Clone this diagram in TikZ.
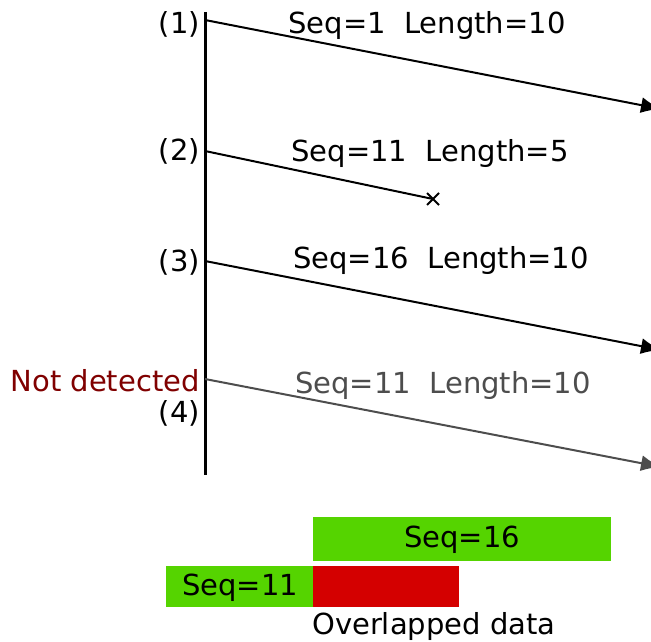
\documentclass[tikz,border=0pt]{standalone}
\usepackage{fontspec}
\setmainfont{DejaVu Sans}
\usetikzlibrary{arrows.meta,calc}
\definecolor{dred}{HTML}{800000}
\definecolor{dgray}{HTML}{4D4D4D}
\definecolor{bgreen}{HTML}{55D400}
\definecolor{bred}{HTML}{D40000}
\begin{document}
\begin{tikzpicture}[x=1pt,y=-1pt,
  lbl/.style={font=\fontsize{29}{34}\selectfont, inner sep=0pt},
  msg/.style={line width=2pt, -{Latex[length=20pt,width=16pt]}}]
\useasboundingbox (0,0) rectangle (651,642);
% timeline
\coordinate (top) at (205,12);
\coordinate (bot) at (205,475);
\draw[line width=3pt] (top) -- (bot);
% start and end points
\coordinate (s1) at (205,20);
\coordinate (s2) at (205,151);
\coordinate (s3) at (205,261);
\coordinate (s4) at (205,379);
\coordinate (e1) at (661,109);
\coordinate (e2) at (433,199);
\coordinate (e3) at (661,350);
\coordinate (e4) at (661,467);
\draw[msg] (s1) -- (e1);
\draw[line width=2pt] (s2) -- (e2);
\draw[line width=2pt] ($(e2)+(-6,-6)$) -- ($(e2)+(6,6)$) ($(e2)+(-6,6)$) -- ($(e2)+(6,-6)$);
\draw[msg] (s3) -- (e3);
\draw[msg, dgray] (s4) -- (e4);
% left labels
\node[lbl, anchor=east] (n1) at (200,24) {(1)};
\node[lbl, anchor=east] (n2) at (200,151) {(2)};
\node[lbl, anchor=east] (n3) at (200,262) {(3)};
\node[lbl, anchor=east, text=dred] (nd) at (200,381) {Not detected};
\node[lbl, anchor=east] (n4) at (200,413) {(4)};
% message labels
\node[lbl] (m1) at (427,26) {Seq=1\ \ Length=10};
\node[lbl] (m2) at (430,153) {Seq=11\ \ Length=5};
\node[lbl] (m3) at (441,260) {Seq=16\ \ Length=10};
\node[lbl, text=dgray] (m4) at (443,385) {Seq=11\ \ Length=10};
% blocks
\fill[bgreen] (313,517) rectangle (611,561);
\fill[bgreen] (166,566) rectangle (313,607);
\fill[bred] (313,566) rectangle (459,607);
\node[lbl] (b16) at (462,540) {Seq=16};
\node[lbl] (b11) at (240,588) {Seq=11};
\node[lbl, anchor=west] (ov) at (312,626) {Overlapped data};
\end{tikzpicture}
\end{document}
